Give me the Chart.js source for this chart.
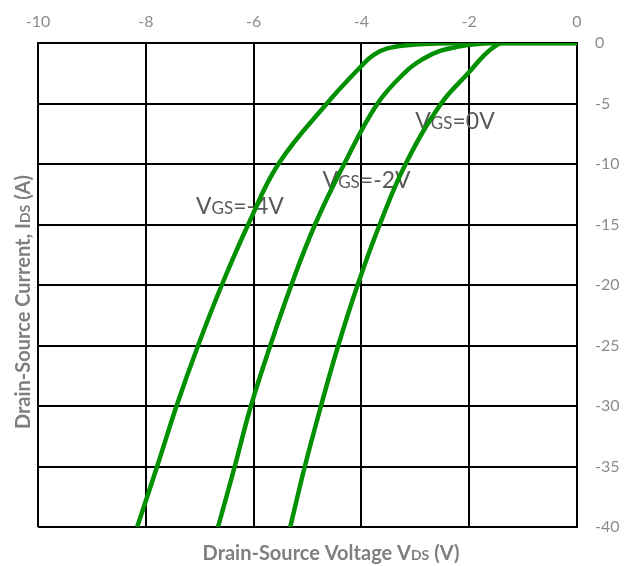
<!DOCTYPE html>
<html>
<head>
<meta charset="utf-8">
<script src="https://cdn.jsdelivr.net/npm/chart.js@4"></script>
<style>
  html, body { margin: 0; padding: 0; background: #fff; }
  #wrap { width: 634px; height: 566px; }
</style>
</head>
<body>
<div id="wrap"><canvas id="iv_chart" width="634" height="566"></canvas></div>
<script>
// Output characteristics, one curve per gate voltage
var vds_0v   = [-5.32, -5.05, -4.75, -4.43, -4.07, -3.66, -3.18, -2.52, -2.0, -1.72, -1.5, -1.38, 0];
var ids_0v   = [-40, -35, -30, -25, -20, -15, -10, -5, -2.4, -1.0, -0.2, 0, 0];

var vds_m2v  = [-6.66, -6.35, -6.05, -5.69, -5.3, -4.86, -4.32, -3.7, -3.16, -2.85, -2.54, -2.2, -1.85, -1.5, 0];
var ids_m2v  = [-40, -35, -30, -25, -20, -15, -10, -5, -2.3, -1.3, -0.66, -0.3, -0.08, 0, 0];

var vds_m4v  = [-8.16, -7.79, -7.43, -7.03, -6.59, -6.1, -5.54, -4.64, -4.0, -3.78, -3.52, -3.15, -2.6, -2.1, 0];
var ids_m4v  = [-40, -35, -30, -25, -20, -15, -10, -5, -1.9, -1.0, -0.45, -0.18, -0.04, 0, 0];

var x_ticks = [-10, -8, -6, -4, -2, 0];
var y_ticks = [0, -5, -10, -15, -20, -25, -30, -35, -40];

const LINE_GREEN = '#009000';
const TICK_GREY = '#8c8c8c';
const TITLE_GREY = '#7f7f7f';
const NOTE_GREY = '#595959';
const FONT = 'Lato, "Open Sans", sans-serif';

function toPoints(xs, ys) {
    var pts = [];
    for (var i = 0; i < xs.length; ++i) {
        pts.push({ x: xs[i], y: ys[i] });
    }
    return pts;
}

function curve(label, xs, ys) {
    return {
        label: label,
        data: toPoints(xs, ys),
        showLine: true,
        borderColor: LINE_GREEN,
        borderWidth: 4.5,
        pointRadius: 0,
        tension: 0.4,
        fill: false
    };
}

// text with a smaller subscript-like part, e.g. V + GS + =0V
function richText(ctx, parts, x, y, align) {
    var total = 0;
    for (var p of parts) {
        ctx.font = p.font;
        total += ctx.measureText(p.t).width;
    }
    var cx = x;
    if (align == 'center') cx = x - total / 2;
    ctx.textBaseline = 'alphabetic';
    ctx.textAlign = 'left';
    for (var p of parts) {
        ctx.font = p.font;
        ctx.fillText(p.t, cx, y);
        cx += ctx.measureText(p.t).width;
    }
}

// curve labels, anchored in data units (left edge, baseline)
var notes = [
    { big1: 'V', small: 'GS', big2: '=0V',  vx: -3.0,  vy: -7.13 },
    { big1: 'V', small: 'GS', big2: '=-2V', vx: -4.72, vy: -11.98 },
    { big1: 'V', small: 'GS', big2: '=-4V', vx: -7.07, vy: -14.16 }
];

var textPlugin = {
    id: 'textPlugin',
    beforeDatasetsDraw: function(chart) {
        var ctx = chart.ctx;
        var xs = chart.scales.x, ys = chart.scales.y;
        ctx.save();
        ctx.fillStyle = NOTE_GREY;
        for (var n of notes) {
            richText(ctx, [
                { t: n.big1, font: '23px ' + FONT },
                { t: n.small, font: '17px ' + FONT },
                { t: n.big2, font: '23px ' + FONT }
            ], xs.getPixelForValue(n.vx), ys.getPixelForValue(n.vy), 'left');
        }
        ctx.restore();
    },
    afterDraw: function(chart) {
        var ctx = chart.ctx;
        ctx.save();
        ctx.fillStyle = TITLE_GREY;
        var big = 'bold 20px ' + FONT, small = 'bold 14px ' + FONT;
        richText(ctx, [
            { t: 'Drain-Source Voltage V', font: big },
            { t: 'DS', font: small },
            { t: ' (V)', font: big }
        ], 331, 560, 'center');

        ctx.translate(29.5, 302);
        ctx.rotate(-Math.PI / 2);
        richText(ctx, [
            { t: 'Drain-Source Current, I', font: big },
            { t: 'DS', font: small },
            { t: ' (A)', font: big }
        ], 0, 0, 'center');
        ctx.restore();
    }
};

var ctx_iv = document.getElementById('iv_chart').getContext('2d');
var chart_iv = new Chart(ctx_iv, {
    type: 'scatter',
    data: {
        datasets: [
            curve('VGS=0V', vds_0v, ids_0v),
            curve('VGS=-2V', vds_m2v, ids_m2v),
            curve('VGS=-4V', vds_m4v, ids_m4v)
        ]
    },
    options: {
        responsive: false,
        animation: false,
        layout: { padding: { left: 38, right: 0, top: 0, bottom: 39 } },
        plugins: {
            legend: { display: false },
            tooltip: { enabled: false }
        },
        scales: {
            x: {
                type: 'linear',
                position: 'top',
                min: -10,
                max: 0,
                afterBuildTicks: function(scale) {
                    scale.ticks = x_ticks.map(function(v) { return { value: v }; });
                },
                afterFit: function(scale) { scale.height = 43; },
                grid: { color: '#000', lineWidth: 2, drawTicks: false },
                border: { color: '#000', width: 2 },
                ticks: {
                    autoSkip: false,
                    maxRotation: 0,
                    color: TICK_GREY,
                    padding: 12,
                    font: { family: FONT, size: 16 }
                }
            },
            y: {
                type: 'linear',
                position: 'right',
                min: -40,
                max: 0,
                afterBuildTicks: function(scale) {
                    scale.ticks = y_ticks.map(function(v) { return { value: v }; });
                },
                afterFit: function(scale) { scale.width = 57; },
                grid: { color: '#000', lineWidth: 2, drawTicks: false },
                border: { color: '#000', width: 2 },
                ticks: {
                    autoSkip: false,
                    color: TICK_GREY,
                    padding: 18,
                    font: { family: FONT, size: 16 }
                }
            }
        }
    },
    plugins: [textPlugin]
});
</script>
</body>
</html>
